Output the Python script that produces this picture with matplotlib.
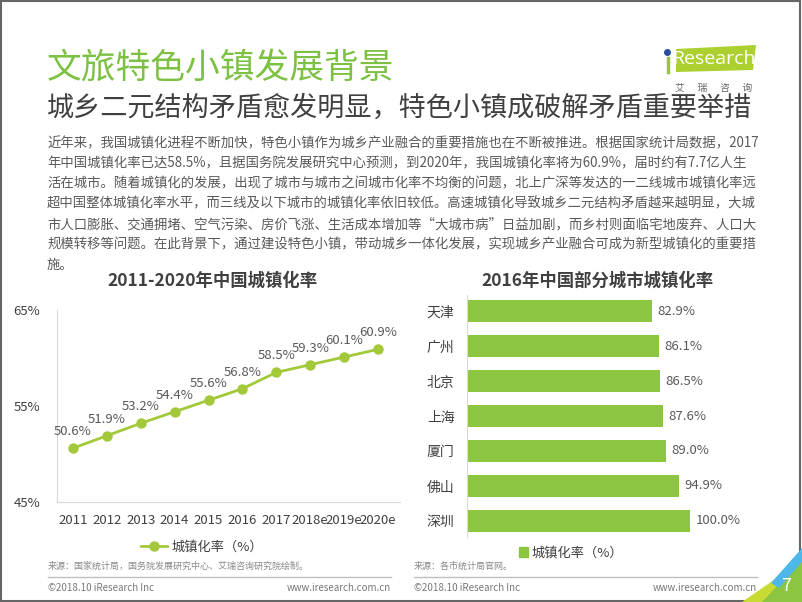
import matplotlib
matplotlib.use("Agg")
import matplotlib.pyplot as plt
from matplotlib.patches import Polygon, Rectangle
from matplotlib.lines import Line2D

plt.rcParams['font.family'] = ['Noto Sans CJK SC', 'DejaVu Sans']

# data
years = ['2011', '2012', '2013', '2014', '2015', '2016', '2017', '2018e', '2019e', '2020e']
urban_rate = [50.6, 51.9, 53.2, 54.4, 55.6, 56.8, 58.5, 59.3, 60.1, 60.9]
cities = ['天津', '广州', '北京', '上海', '厦门', '佛山', '深圳']
city_rate = [82.9, 86.1, 86.5, 87.6, 89.0, 94.9, 100.0]

body_lines = [
    "近年来，我国城镇化进程不断加快，特色小镇作为城乡产业融合的重要措施也在不断被推进。根据国家统计局数据，2017",
    "年中国城镇化率已达58.5%，且据国务院发展研究中心预测，到2020年，我国城镇化率将为60.9%，届时约有7.7亿人生",
    "活在城市。随着城镇化的发展，出现了城市与城市之间城市化率不均衡的问题，北上广深等发达的一二线城市城镇化率远",
    "超中国整体城镇化率水平，而三线及以下城市的城镇化率依旧较低。高速城镇化导致城乡二元结构矛盾越来越明显，大城",
    "市人口膨胀、交通拥堵、空气污染、房价飞涨、生活成本增加等“大城市病”日益加剧，而乡村则面临宅地废弃、人口大",
    "规模转移等问题。在此背景下，通过建设特色小镇，带动城乡一体化发展，实现城乡产业融合可成为新型城镇化的重要措",
    "施。",
]

W, H = 802, 602
GREEN_T = '#7dc143'
LINE_C = '#a3c93a'
BAR_C = '#8cc540'
DARK = '#404040'
GRAY = '#595959'


def px(x):
    return x / W


def py(y):
    return 1 - y / H


fig = plt.figure(figsize=(W / 100, H / 100), dpi=100)
fig.patch.set_facecolor('white')

# page frame
fig.add_artist(Rectangle((0.001, 0.002), 0.997, 0.996, transform=fig.transFigure,
                         fill=False, edgecolor='#666666', linewidth=1.5))

# headings
fig.text(px(47), py(68), '文旅特色小镇发展背景', fontsize=25, fontweight='light', color=GREEN_T,
         va='center', ha='left')
fig.text(px(47), py(108), '城乡二元结构矛盾愈发明显，特色小镇成破解矛盾重要举措', fontsize=19.5,
         fontweight='light', color=DARK, va='center', ha='left')

# logo
fig.add_artist(Polygon([(px(676), py(49)), (px(756), py(45)), (px(753), py(70)), (px(676), py(72))],
                       closed=True, transform=fig.transFigure, facecolor='#acd02f', edgecolor='none'))
fig.add_artist(Line2D([px(668), px(668)], [py(58), py(72)], color='#9cc63a', linewidth=2.5,
                      transform=fig.transFigure))
fig.add_artist(Line2D([px(667)], [py(52)], marker='o', markersize=4, color='#2a4f9e',
                      transform=fig.transFigure))
fig.text(px(714), py(59), 'Research', fontsize=14, family='Open Sans', color='white',
         va='center', ha='center')
fig.text(px(714), py(88), '艾      瑞      咨      询', fontsize=7, color='#666666',
         va='center', ha='center')

# body text
for i, line in enumerate(body_lines):
    fig.text(px(47), py(143 + i * 20.3), line, fontsize=9.6, color=GRAY, va='center', ha='left')

# chart titles
fig.text(px(212), py(281), '2011-2020年中国城镇化率', fontsize=12.5, fontweight='bold',
         color=DARK, va='center', ha='center')
fig.text(px(597), py(281), '2016年中国部分城市城镇化率', fontsize=12.5, fontweight='bold',
         color=DARK, va='center', ha='center')

# line chart
ax1 = fig.add_axes([px(57), py(502), px(400) - px(57), py(310) - py(502)])
xs = range(len(years))
ax1.plot(xs, urban_rate, color=LINE_C, linewidth=2, marker='o', markersize=6.5)
for x, v in zip(xs, urban_rate):
    ax1.annotate(f'{v:.1f}%', (x, v), xytext=(0, 12), textcoords='offset points',
                 ha='center', va='center', fontsize=9.5, color=GRAY)
ax1.set_xlim(-0.47, 9.65)
ax1.set_ylim(45, 65)
ax1.set_yticks([45, 55, 65])
ax1.set_yticklabels(['45%', '55%', '65%'])
ax1.set_xticks(list(xs))
ax1.set_xticklabels(years)
ax1.tick_params(length=0, labelsize=9.5, labelcolor=DARK)
ax1.tick_params(axis='y', pad=12)
ax1.tick_params(axis='x', pad=9)
for s in ['top', 'right']:
    ax1.spines[s].set_visible(False)
for s in ['left', 'bottom']:
    ax1.spines[s].set_color('#d9d9d9')

fig.legend(handles=[Line2D([0], [0], color=LINE_C, linewidth=2, marker='o', markersize=6.5)],
           labels=['城镇化率（%）'], loc='center', bbox_to_anchor=(px(202), py(547)),
           frameon=False, fontsize=9.5, handlelength=2, handletextpad=0.3, labelcolor=DARK)

# bar chart
ax2 = fig.add_axes([px(467), py(537), px(735) - px(467), py(295) - py(537)])
ys = range(len(cities))
ax2.barh(ys, city_rate, height=0.63, color=BAR_C)
for y, v in zip(ys, city_rate):
    ax2.annotate(f'{v:.1f}%', (v, y), xytext=(4, 0), textcoords='offset points',
                 ha='left', va='center', fontsize=9.5, color=GRAY)
ax2.set_ylim(6.46, -0.46)
ax2.set_xlim(0, 120)
ax2.set_yticks(list(ys))
ax2.set_yticklabels(cities)
ax2.set_xticks([])
ax2.tick_params(length=0, labelsize=10, labelcolor=DARK, pad=9)
for s in ['top', 'right', 'bottom']:
    ax2.spines[s].set_visible(False)
ax2.spines['left'].set_color('#d9d9d9')

fig.legend(handles=[Rectangle((0, 0), 1, 1, color=BAR_C)], labels=['城镇化率（%）'],
           loc='center', bbox_to_anchor=(px(571), py(553)), frameon=False, fontsize=9.5,
           handlelength=0.7, handleheight=0.7, handletextpad=0.3, labelcolor=DARK)

# sources and footers
fig.text(px(48), py(566), '来源：国家统计局，国务院发展研究中心、艾瑞咨询研究院绘制。', fontsize=6.5,
         color='#888888', va='center', ha='left')
fig.text(px(414), py(566), '来源：各市统计局官网。', fontsize=6.5, color='#888888', va='center', ha='left')
for x0, x1 in [(48, 391), (414, 757)]:
    fig.add_artist(Line2D([px(x0), px(x1)], [py(577), py(577)], color='#bfbfbf', linewidth=1,
                          transform=fig.transFigure))
    fig.text(px(x0), py(588), '©2018.10 iResearch Inc', fontsize=7, color='#777777',
             va='center', ha='left')
    fig.text(px(x1), py(588), 'www.iresearch.com.cn', fontsize=7, color='#777777',
             va='center', ha='right')


# corner decoration
def corner(points, color):
    fig.add_artist(Polygon([(px(a), py(b)) for a, b in points], closed=True,
                           transform=fig.transFigure, facecolor=color, edgecolor='none'))


corner([(742, 602), (784, 573), (792, 602)], '#c8da34')
corner([(762, 602), (802, 560), (802, 602)], '#8cc540')
corner([(771, 583), (802, 548), (802, 562), (779, 588)], '#4db8e8')
fig.text(px(786), py(586), '7', fontsize=13, color='white', va='center', ha='center')

fig.savefig('out.png', dpi=100)
